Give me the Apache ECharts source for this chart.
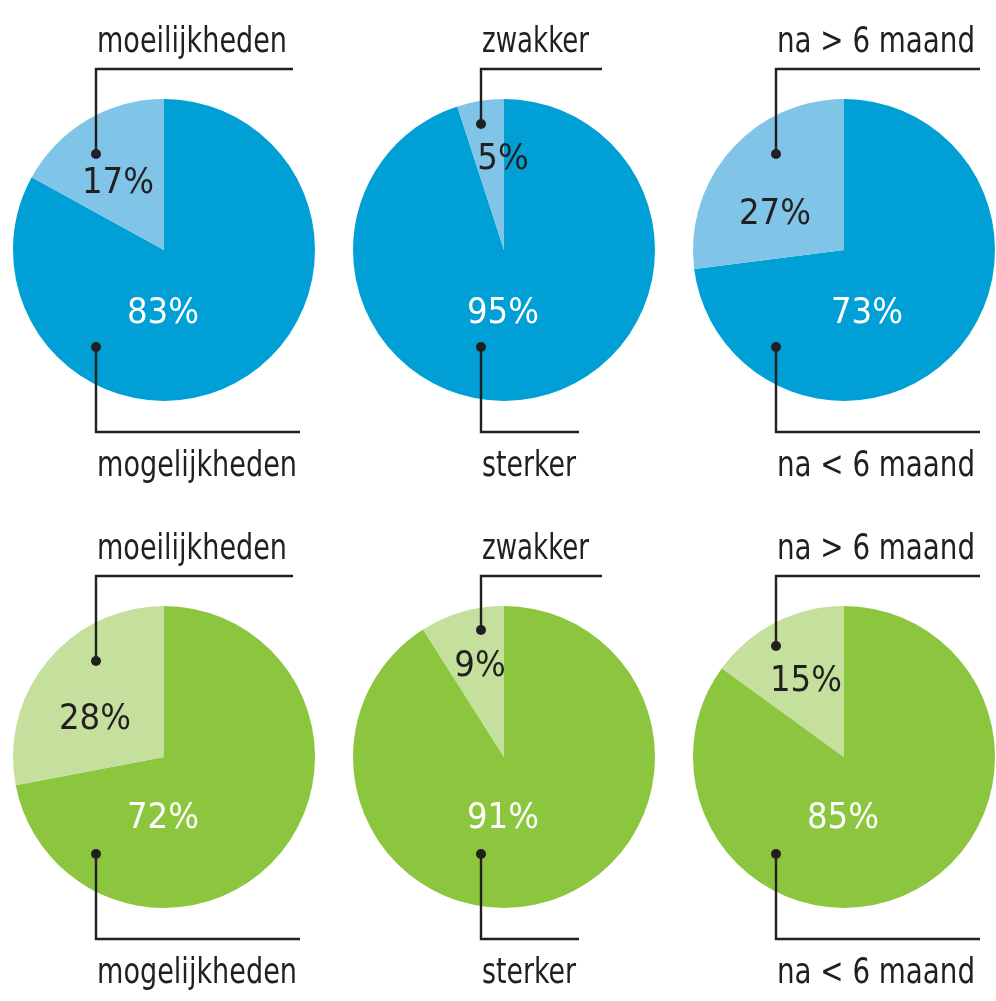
<!DOCTYPE html>
<html>
<head>
<meta charset="utf-8">
<script src="https://cdn.jsdelivr.net/npm/echarts@6/dist/echarts.min.js"></script>
<style>
  html, body { margin: 0; padding: 0; background: #fff; }
  #chart { width: 996px; height: 1001px; }
</style>
</head>
<body>
<div id="chart"></div>
<script>
// data
const smallNames = ['moeilijkheden', 'zwakker', 'na > 6 maand']
const bigNames = ['mogelijkheden', 'sterker', 'na < 6 maand']
const blueSmall = [17, 5, 27]
const blueBig = [83, 95, 73]
const greenSmall = [28, 9, 15]
const greenBig = [72, 91, 85]

// layout (px)
const colX = [164, 504, 844]
const rowY = [250, 757]
const R = 151
const FONT = "'Liberation Sans Narrow', 'DejaVu Sans Condensed', 'Liberation Sans', sans-serif"
const INK = '#231f20'

const rows = [
  { small: blueSmall, big: blueBig, dark: '#00a0d6', light: '#80c4e7' },
  { small: greenSmall, big: greenBig, dark: '#8cc63f', light: '#c5df9d' }
]

// percent label offsets from pie centre
const smallLabelPos = [[[-46, -68], [-1, -92], [-69, -37]], [[-69, -39], [-24, -92], [-38, -77]]]
const bigLabelPos = [[[-1, 62], [-1, 62], [23, 62]], [[-1, 60], [-1, 60], [-1, 60]]]

// callout geometry, relative to pie centre
const calloutX = [-68, -23, -68]
const topLineEnd = [129, 98, 136]
const bottomLineEnd = [136, 75, 136]
const topDotY = [[-96, -126, -96], [-96, -127, -111]]
const topNameW = [190, 107, 198]
const bottomNameW = [200, 94, 198]

const NAME_FS = 36
const ctx = document.createElement('canvas').getContext('2d')
ctx.font = NAME_FS + 'px ' + FONT
const textW = (t) => ctx.measureText(t).width

const nameText = (text, x, baseline, width) => ({
  type: 'text',
  z: 100,
  x: x,
  y: baseline - 10,
  scaleX: width / textW(text),
  style: {
    text: text,
    x: 0,
    y: 0,
    fill: INK,
    font: NAME_FS + 'px ' + FONT,
    align: 'left',
    verticalAlign: 'middle'
  }
})

const series = []
const graphics = []

rows.forEach((row, r) => {
  colX.forEach((cx, c) => {
    const cy = rowY[r]
    series.push({
      type: 'pie',
      center: [cx, cy],
      radius: R,
      startAngle: 90,
      clockwise: true,
      silent: true,
      animation: false,
      label: {
        show: true,
        position: 'inside',
        fontFamily: FONT,
        fontSize: 36,
        formatter: '{c}%'
      },
      labelLine: { show: false },
      labelLayout: (p) => {
        const off = p.dataIndex === 0 ? bigLabelPos[r][c] : smallLabelPos[r][c]
        return { x: cx + off[0], y: cy + off[1] + 2, align: 'center', verticalAlign: 'middle' }
      },
      data: [
        { value: row.big[c], name: bigNames[c], itemStyle: { color: row.dark }, label: { color: '#fff' } },
        { value: row.small[c], name: smallNames[c], itemStyle: { color: row.light }, label: { color: INK } }
      ]
    })

    const lx = calloutX[c]
    graphics.push({
      type: 'group',
      x: cx,
      y: cy,
      silent: true,
      children: [
        {
          type: 'polyline',
          z: 100,
          shape: { points: [[lx, topDotY[r][c]], [lx, -181], [topLineEnd[c], -181]] },
          style: { stroke: INK, lineWidth: 2.4, fill: null }
        },
        {
          type: 'circle',
          z: 100,
          shape: { cx: lx, cy: topDotY[r][c], r: 5 },
          style: { fill: INK }
        },
        {
          type: 'polyline',
          z: 100,
          shape: { points: [[lx, 97], [lx, 182], [bottomLineEnd[c], 182]] },
          style: { stroke: INK, lineWidth: 2.4, fill: null }
        },
        {
          type: 'circle',
          z: 100,
          shape: { cx: lx, cy: 97, r: 5 },
          style: { fill: INK }
        },
        nameText(smallNames[c], lx + 1, -197, topNameW[c]),
        nameText(bigNames[c], lx + 1, 227, bottomNameW[c])
      ]
    })
  })
})

const chart = echarts.init(document.getElementById('chart'), null, { renderer: 'canvas' })
chart.setOption({
  backgroundColor: '#fff',
  animation: false,
  series: series,
  graphic: graphics
})
</script>
</body>
</html>
